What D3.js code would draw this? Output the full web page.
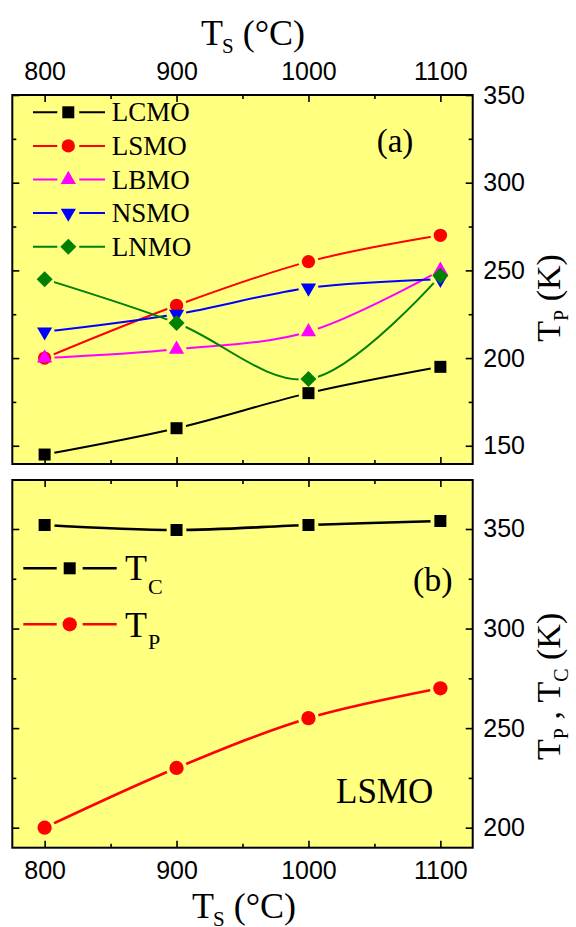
<!DOCTYPE html>
<html><head><meta charset="utf-8">
<script src="https://cdn.jsdelivr.net/npm/d3@7"></script>
<style>body{margin:0;background:#fff}</style></head>
<body>
<svg id="c" width="576" height="927"></svg>
<script>
// ---- data ----
const temps = [800, 900, 1000, 1100];
const seriesNames = ["LCMO", "LSMO", "LBMO", "NSMO", "LNMO"];
const LCMO = [145, 160, 180, 195];
const LSMO = [200, 230, 255, 270];
const LBMO = [200, 205, 215, 250];
const NSMO = [215, 225, 240, 245];
const LNMO = [245, 220, 188, 247];
const TC = [352, 349.5, 352, 354];
const TP = [200, 230, 255, 270];
const xTicks = [800, 900, 1000, 1100];
const xMinor = [850, 950, 1050];
const yTicksA = [150, 200, 250, 300, 350];
const yMinorA = [175, 225, 275, 325];
const yTicksB = [200, 250, 300, 350];
const yMinorB = [225, 275, 325];

// ---- setup ----
const svg = d3.select("#c");
const YEL = "#ffff80";
const SERIF = "'Liberation Serif'";
const SANS = "'Liberation Sans'";
const X0 = 12.3, X1 = 472.7;
const x = d3.scaleLinear().domain([775.5, 1124.5]).range([X0, X1]);
const ya = d3.scaleLinear().domain([139.6, 350]).range([464, 95]);
const yb = d3.scaleLinear().domain([189.95, 374.6]).range([847.7, 480]);

const defs = svg.append("defs");

const shapes = {
  square: d3.symbol().type(d3.symbolSquare).size(144),
  circle: d3.symbol().type(d3.symbolCircle).size(140),
  triUp: d3.symbol().type(d3.symbolTriangle).size(100),
  triDown: d3.symbol().type(d3.symbolTriangle).size(100),
  diamond: d3.symbol().type(d3.symbolSquare).size(128),
  circleB: d3.symbol().type(d3.symbolCircle).size(160)
};
const rot = {triDown: 180, diamond: 45};

function marker(g, shape, color, cx, cy) {
  g.append("path").attr("d", shapes[shape]())
    .attr("transform", `translate(${cx},${cy}) rotate(${rot[shape] || 0})`)
    .attr("fill", color);
}

let maskId = 0;
function makeMask(points, r) {
  const id = "m" + (maskId++);
  const m = defs.append("mask").attr("id", id).attr("maskUnits", "userSpaceOnUse")
    .attr("x", 0).attr("y", 0).attr("width", 576).attr("height", 927);
  m.append("rect").attr("width", 576).attr("height", 927).attr("fill", "#fff");
  points.forEach(p => m.append("circle").attr("cx", p[0]).attr("cy", p[1]).attr("r", r).attr("fill", "#000"));
  return id;
}

function panel(top, bottom) {
  svg.append("rect").attr("x", X0).attr("y", top).attr("width", X1 - X0).attr("height", bottom - top).attr("fill", YEL);
}

function styleAxis(g) {
  g.select(".domain").remove();
  g.attr("font-family", null).attr("font-size", null);
  g.selectAll("line").attr("stroke", "#000").attr("stroke-width", 1.6);
  g.selectAll("text").style("font-family", SANS).style("font-size", "25px").attr("fill", "#000");
}

function axes(y, top, bottom, yT, yM, topLabels, bottomLabels) {
  const mk = (tr, ax) => styleAxis(svg.append("g").attr("transform", tr).call(ax));
  mk(`translate(0,${top})`, d3.axisTop(x).tickValues(xTicks).tickSize(-7).tickPadding(15).tickFormat(topLabels ? d3.format("d") : ""));
  mk(`translate(0,${top})`, d3.axisTop(x).tickValues(xMinor).tickSize(-4).tickFormat(""));
  mk(`translate(0,${bottom})`, d3.axisBottom(x).tickValues(xTicks).tickSize(-7).tickPadding(13.8).tickFormat(bottomLabels ? d3.format("d") : ""));
  mk(`translate(0,${bottom})`, d3.axisBottom(x).tickValues(xMinor).tickSize(-4).tickFormat(""));
  mk(`translate(${X0},0)`, d3.axisLeft(y).tickValues(yT).tickSize(-7).tickFormat(""));
  mk(`translate(${X0},0)`, d3.axisLeft(y).tickValues(yM).tickSize(-4).tickFormat(""));
  mk(`translate(${X1},0)`, d3.axisRight(y).tickValues(yT).tickSize(-7).tickPadding(10.6).tickFormat(d3.format("d")));
  mk(`translate(${X1},0)`, d3.axisRight(y).tickValues(yM).tickSize(-4).tickFormat(""));
  svg.append("rect").attr("x", X0).attr("y", top).attr("width", X1 - X0).attr("height", bottom - top)
    .attr("fill", "none").attr("stroke", "#000").attr("stroke-width", 2);
}

function series(g, y, vals, color, shape, width, gap) {
  const pts = temps.map((t, i) => [x(t), y(vals[i])]);
  const id = makeMask(pts, gap);
  g.append("path").attr("d", d3.line().curve(d3.curveCatmullRom.alpha(0.5))(pts))
    .attr("fill", "none").attr("stroke", color).attr("stroke-width", width)
    .attr("mask", `url(#${id})`);
  pts.forEach(p => marker(g, shape, color, p[0], p[1]));
}

function legendRow(g, cy, x0, xm, x1, color, shape, width, gap) {
  const id = makeMask([[xm, cy]], gap);
  g.append("line").attr("x1", x0).attr("x2", x1).attr("y1", cy).attr("y2", cy)
    .attr("stroke", color).attr("stroke-width", width).attr("mask", `url(#${id})`);
  marker(g, shape, color, xm, cy);
}

function serifText(xp, yp, size, tr) {
  const t = svg.append("text").style("font-family", SERIF).style("font-size", size + "px").attr("fill", "#000");
  if (tr) t.attr("transform", tr); else t.attr("x", xp).attr("y", yp);
  return t;
}
function sub(t, txt, size, dy, dx) {
  t.append("tspan").style("font-size", size + "px").attr("dx", dx || 0).attr("dy", dy).text(txt);
}
function main(t, txt, dy) {
  const s = t.append("tspan").text(txt);
  if (dy) s.attr("dy", dy);
}

// ---- panel (a) ----
panel(95, 464);
const ga = svg.append("g");
const colors = ["#000000", "#ff0000", "#ff00ff", "#0000ff", "#008000"];
const shapeList = ["square", "circle", "triUp", "triDown", "diamond"];
const dataA = [LCMO, LSMO, LBMO, NSMO, LNMO];
dataA.forEach((d, i) => series(ga, ya, d, colors[i], shapeList[i], 2, 10));
axes(ya, 95, 464, yTicksA, yMinorA, true, false);

// legend a
seriesNames.forEach((n, i) => {
  const cy = 112.3 + i * 33.6;
  legendRow(svg, cy, 33, 68.3, 105, colors[i], shapeList[i], 2, 11);
  serifText(111.7, cy + 9, 27).text(n);
});
serifText(376.7, 152, 33).text("(a)");

// ---- panel (b) ----
panel(480, 847.7);
const gb = svg.append("g");
series(gb, yb, TC, "#000000", "square", 2.6, 10);
series(gb, yb, TP, "#ff0000", "circleB", 2.6, 10.5);
axes(yb, 480, 847.7, yTicksB, yMinorB, false, true);

legendRow(svg, 568.3, 23.3, 69.7, 116.7, "#000000", "square", 2.6, 13);
legendRow(svg, 624.3, 23.3, 69.7, 116.7, "#ff0000", "circleB", 2.6, 13);
const lt1 = serifText(125, 580, 36);
main(lt1, "T"); sub(lt1, "C", 22, 14, 1);
const lt2 = serifText(125, 636.7, 36);
main(lt2, "T"); sub(lt2, "P", 22, 12, 1);

serifText(413, 590.7, 34).text("(b)");
serifText(336, 803, 35).text("LSMO");

// ---- axis titles ----
function tsTitle(xs, ys) {
  const t = serifText(xs, ys, 36);
  main(t, "T"); sub(t, "S", 21, 8, -1); main(t, "\u00a0(\u00b0C)", -8);
}
tsTitle(201, 45);
tsTitle(192, 918);

const ra = serifText(0, 0, 34, "translate(560,341.7) rotate(-90)");
main(ra, "T"); sub(ra, "P", 20, 8); main(ra, "\u00a0(K)", -8);

const rb = serifText(0, 0, 34, "translate(560,760) rotate(-90)");
main(rb, "T"); sub(rb, "P", 20, 8); main(rb, "\u00a0,\u00a0T", -8); sub(rb, "C", 20, 8); main(rb, "\u00a0(K)", -8);
</script>
</body></html>
